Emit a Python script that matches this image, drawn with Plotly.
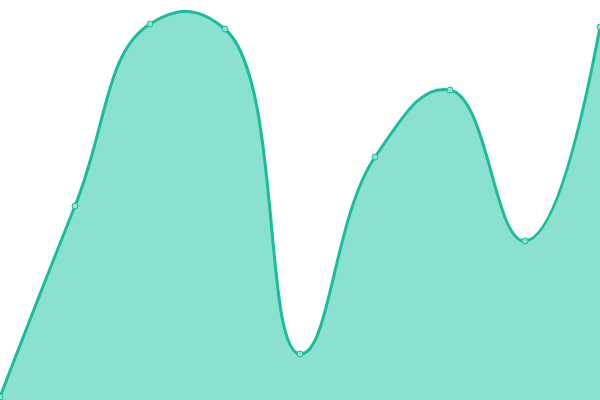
import plotly.graph_objects as go

x_values = [0, 1, 2, 3, 4, 5, 6, 7, 8]
y_values = [3, 194, 376, 371, 46, 243, 310, 159, 373]

fig = go.Figure()
fig.add_trace(go.Scatter(
    x=x_values, y=y_values,
    mode="lines+markers",
    line=dict(shape="spline", smoothing=1.3, color="#1abc9c", width=3),
    fill="tozeroy",
    fillcolor="rgba(22,196,160,0.5)",
    marker=dict(size=6, color="#8fe3d2", line=dict(color="#1abc9c", width=1)),
    hoverinfo="skip",
    cliponaxis=False,
))
fig.update_layout(
    width=600, height=400,
    margin=dict(l=0, r=0, t=0, b=0),
    paper_bgcolor="white", plot_bgcolor="white",
    showlegend=False,
    xaxis=dict(range=[0, 8], visible=False, fixedrange=True),
    yaxis=dict(range=[0, 400], visible=False, fixedrange=True),
)
fig.write_html("out.html", config={"displayModeBar": False},
               post_script="document.body.style.margin='0';document.body.style.overflow='hidden';")
